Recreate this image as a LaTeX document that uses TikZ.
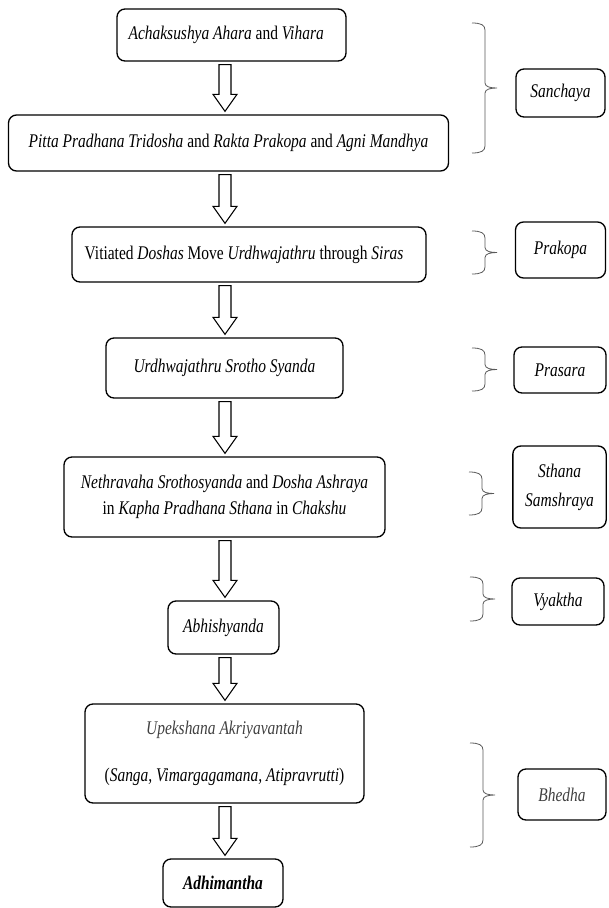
\documentclass[tikz,border=0pt]{standalone}
\usepackage{fontspec}
\setmainfont{Liberation Serif}[FakeStretch=0.8]
\usetikzlibrary{calc}

% hollow block arrow between two stacked boxes, on the column (ax)
\newcommand{\fatarrow}[2]{%
  \coordinate (top) at ($(#1.south -| ax)+(0,3)$);
  \coordinate (tip) at ($(#2.north -| ax)+(0,-3)$);
  \draw[fatarr] ($(top)+(-6,0)$) -- ($(tip)+(-6,-17)$) -- ($(tip)+(-12,-17)$) -- (tip)
    -- ($(tip)+(12,-17)$) -- ($(tip)+(6,-17)$) -- ($(top)+(6,0)$) -- cycle;
}
% right curly bracket: x, top, bottom
\newcommand{\phasebrace}[3]{%
  \coordinate (bt) at (#1,#2);
  \coordinate (bb) at (#1,#3);
  \coordinate (bm) at ($(bt)!0.5!(bb)$);
  \draw[brc] (bt) .. controls +(9,0) and +(0,-5) .. ($(bt)+(13,7)$) -- ($(bm)+(13,-5)$)
    .. controls +(0,4) and +(-6,0) .. ($(bm)+(25,0)$)
    .. controls +(-6,0) and +(0,-4) .. ($(bm)+(13,5)$) -- ($(bb)+(13,-7)$)
    .. controls +(0,5) and +(9,0) .. (bb);
}

\begin{document}
\begin{tikzpicture}[
  x=0.75pt, y=-0.75pt,
  stage/.style={draw, line width=1pt, rounded corners=6pt, align=center, inner sep=0pt, font=\fontsize{14.5}{16}\selectfont},
  phase/.style={stage, font=\fontsize{14.5}{16}\selectfont\itshape},
  fatarr/.style={draw, line width=0.8pt, fill=white, line join=miter},
  brc/.style={draw=black!65, line width=0.6pt}
]
\useasboundingbox (0,0) rectangle (608,908);
\coordinate (ax) at (225,0);

\node[stage, minimum width=171.75pt, minimum height=39pt] (ahara) at (231.5,35)
  {\textit{Achaksushya Ahara} and \textit{Vihara}\hspace{8pt}};
\node[stage, minimum width=330pt, minimum height=42pt] (pitta) at (228.5,143)
  {\textit{Pitta Pradhana Tridosha} and \textit{Rakta Prakopa} and \textit{Agni Mandhya}};
\node[stage, minimum width=265.5pt, minimum height=41.25pt] (siras) at (249,254.5)
  {Vitiated \textit{Doshas} Move \textit{Urdhwajathru} through \textit{Siras}\hspace{7.5pt}};
\node[stage, minimum width=177.75pt, minimum height=45pt] (syanda) at (224.5,368)
  {\textit{Urdhwajathru Srotho Syanda}};
\node[stage, minimum width=240.75pt, minimum height=60pt, font=\fontsize{14.5}{19.5}\selectfont] (ashraya) at (224.5,497)
  {\textit{Nethravaha Srothosyanda} and \textit{Dosha Ashraya}\\ in \textit{Kapha Pradhana Sthana} in \textit{Chakshu}};
\node[stage, minimum width=83.25pt, minimum height=39.75pt] (abhi) at (223.5,627.5)
  {\textit{Abhishyanda}};
\node[stage, minimum width=209.25pt, minimum height=74.25pt, font=\fontsize{14.5}{35}\selectfont] (upek) at (224.5,753.5)
  {\textcolor{black!75}{\textit{Upekshana Akriyavantah}}\\ (\textit{Sanga, Vimargagamana, Atipravrutti})};
\node[stage, minimum width=90pt, minimum height=36pt] (adhi) at (223,883)
  {\textbf{\textit{Adhimantha}}};

\fatarrow{ahara}{pitta}
\fatarrow{pitta}{siras}
\fatarrow{siras}{syanda}
\fatarrow{syanda}{ashraya}
\fatarrow{ashraya}{abhi}
\fatarrow{abhi}{upek}
\fatarrow{upek}{adhi}

% stages of the disease
\node[phase, minimum width=66.75pt, minimum height=36pt] (sanchaya) at (560.5,93) {Sanchaya};
\node[phase, minimum width=67.5pt, minimum height=42pt] (prakopa) at (560.5,250) {Prakopa};
\node[phase, minimum width=69pt, minimum height=34.5pt] (prasara) at (560,370) {Prasara};
\node[phase, minimum width=70pt, minimum height=61.5pt, font=\fontsize{14.5}{21.75}\selectfont\itshape] (sthana) at (559.5,487) {Sthana\\Samshraya};
\node[phase, minimum width=69pt, minimum height=35.25pt] (vyaktha) at (558,601.5) {Vyaktha};
\node[phase, minimum width=66pt, minimum height=38.25pt, text=black!75] (bhedha) at (562,794.5) {Bhedha};

\phasebrace{472}{23}{153}
\phasebrace{472}{231}{274}
\phasebrace{472}{348}{391}
\phasebrace{469}{472}{515}
\phasebrace{470}{577}{621}
\phasebrace{470}{743}{847}

\end{tikzpicture}
\end{document}
